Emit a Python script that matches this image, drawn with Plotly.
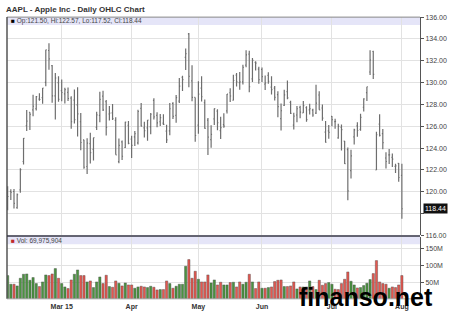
import pandas as pd
import plotly.graph_objects as go

W, H = 450, 328

holidays = ["2015-02-16", "2015-04-03", "2015-05-25", "2015-07-03"]
dates = [d.strftime("%Y-%m-%d") for d in pd.bdate_range("2015-02-04", "2015-08-03")
         if d.strftime("%Y-%m-%d") not in holidays]

prev_close = 118.65

opens = [
    118.50, 120.02, 120.02, 118.55, 120.17, 122.77, 126.06, 127.28, 127.49, 127.62, 128.48, 128.62, 130.02, 132.94, 131.56, 128.79, 130.00,
    129.25, 128.96, 129.10, 128.58, 128.40, 127.96, 126.41, 124.75, 122.31, 124.40, 123.88, 125.90, 127.00, 128.75, 128.25, 127.12, 127.23, 126.54, 122.76, 124.57, 124.05, 126.09,
    124.82, 125.03, 124.47, 127.64, 125.85, 125.85, 125.95, 128.37, 127.00, 126.41, 126.28, 125.55, 125.57, 128.10, 126.99, 128.30, 130.49, 132.31, 134.46, 130.16, 128.64,
    126.10, 129.50, 128.15, 126.56, 124.77, 126.68, 127.39, 125.60, 126.15, 127.41, 129.07, 128.38, 130.69, 130.00, 130.07, 131.60, 132.60, 130.34, 131.86, 131.23,
    131.20, 129.86, 130.66, 129.58, 129.50, 128.90, 126.70, 127.92, 129.18, 128.19, 126.10, 127.03, 127.72, 127.23, 127.71, 127.49, 127.48, 127.21, 128.86, 127.67, 125.46, 125.57,
    126.90, 126.43, 124.94, 125.89, 124.64, 123.85, 121.94, 125.03, 126.04, 125.72, 127.74, 129.08, 130.97, 132.85, 121.99, 126.20, 125.32, 123.09, 123.38, 123.15, 122.32, 122.60,
    121.50]
highs = [
    120.51, 120.23, 120.25, 119.84, 122.15, 124.92, 127.48, 127.28, 128.88, 128.78, 129.03, 129.50, 133.00, 133.60, 131.60, 130.87, 130.57,
    130.28, 129.52, 129.56, 128.75, 129.37, 129.57, 127.22, 124.77, 124.90, 125.40, 124.95, 127.32, 129.16, 129.25, 128.40, 127.85, 128.04, 126.82, 124.88, 124.70, 126.40, 126.49,
    125.12, 125.56, 127.51, 128.12, 126.40, 126.58, 127.21, 128.57, 127.29, 127.13, 127.10, 126.14, 128.12, 128.20, 128.87, 130.42, 130.63, 133.13, 134.54, 131.59, 128.64,
    130.13, 130.57, 128.45, 126.75, 126.08, 127.62, 127.56, 126.88, 127.19, 128.95, 129.49, 130.72, 130.88, 130.98, 131.63, 132.97, 132.91, 132.26, 131.95, 131.45,
    131.39, 130.66, 130.94, 130.58, 129.69, 129.21, 128.08, 129.34, 130.18, 128.33, 127.24, 127.85, 127.88, 128.31, 127.82, 128.06, 127.61, 129.80, 129.20, 127.99, 126.47, 126.12,
    126.94, 126.69, 126.23, 126.15, 124.64, 124.06, 123.85, 125.76, 126.37, 127.15, 128.57, 129.62, 132.97, 132.92, 125.50, 127.09, 125.74, 123.61, 123.91, 123.50, 122.57, 122.64,
    122.57]
lows = [
    118.31, 119.25, 118.45, 118.43, 119.90, 122.50, 125.57, 125.65, 126.92, 127.45, 128.33, 128.05, 129.66, 131.17, 128.15, 126.61, 128.24,
    128.30, 128.09, 128.32, 125.76, 126.26, 125.06, 123.80, 122.11, 121.63, 122.58, 122.87, 125.65, 126.37, 127.40, 125.16, 126.52, 126.56, 123.38, 122.60, 122.91, 124.00, 124.36,
    123.10, 124.19, 124.33, 125.98, 124.97, 124.66, 125.26, 126.61, 125.91, 126.01, 126.11, 124.46, 125.17, 126.67, 126.32, 128.14, 129.23, 131.15, 129.57, 128.30, 124.58,
    125.30, 128.26, 125.78, 123.36, 124.02, 126.11, 125.63, 124.82, 125.87, 127.16, 128.21, 128.36, 129.64, 129.34, 129.83, 131.40, 129.12, 130.05, 131.10, 129.90,
    130.05, 129.32, 129.90, 128.91, 128.36, 126.83, 125.62, 127.85, 128.48, 127.11, 125.71, 126.37, 126.74, 127.22, 126.40, 127.08, 126.88, 127.12, 127.50, 126.51, 124.48, 124.86,
    125.99, 125.77, 124.85, 123.77, 122.54, 119.22, 121.21, 124.32, 125.04, 125.58, 127.35, 128.31, 130.70, 130.32, 121.99, 125.06, 123.90, 122.12, 122.55, 122.27, 121.71, 120.91,
    117.52]
closes = [
    119.56, 119.94, 118.93, 119.72, 122.02, 124.88, 126.46, 127.08, 127.83, 128.72, 128.45, 129.50, 133.00, 132.17, 128.79, 130.42, 128.46,
    129.09, 129.36, 128.54, 126.41, 126.60, 127.14, 124.51, 122.24, 124.45, 123.59, 124.95, 127.04, 128.47, 127.50, 125.90, 127.21, 126.69, 123.38, 124.24, 123.25, 126.37, 124.43,
    124.25, 125.32, 127.35, 126.01, 125.60, 126.56, 127.10, 126.85, 126.30, 126.78, 126.17, 124.75, 127.60, 126.91, 128.62, 129.67, 130.28, 132.65, 130.56, 128.64, 125.15,
    128.95, 128.70, 125.80, 125.01, 125.26, 127.62, 126.32, 125.87, 126.01, 128.95, 128.77, 130.19, 130.07, 130.06, 131.39, 132.54, 129.62, 132.04, 131.78, 130.28,
    130.54, 129.96, 130.12, 129.36, 128.65, 127.80, 127.42, 128.88, 128.59, 127.17, 126.92, 127.60, 127.30, 127.88, 126.60, 127.61, 127.03, 128.11, 127.50, 126.75, 124.53, 125.43,
    126.60, 126.44, 126.00, 125.69, 122.57, 120.07, 123.28, 125.66, 125.61, 126.82, 128.51, 129.62, 132.07, 130.75, 125.22, 125.16, 124.50, 122.77, 123.38, 122.99, 122.37, 121.30,
    118.44]
volume_m = [
    70, 44, 44, 39, 62, 74, 75, 56, 64, 46, 37, 51, 72, 70, 75, 91, 62,
    46, 36, 31, 57, 74, 87, 70, 70, 51, 54, 34, 51, 66, 46, 71, 37, 35, 54, 47, 39, 48, 42,
    42, 32, 36, 38, 36, 34, 38, 35, 27, 28, 28, 54, 46, 32, 38, 44, 44, 98, 118, 62, 83,
    59, 51, 51, 72, 48, 57, 42, 50, 42, 42, 49, 50, 36, 51, 44, 50, 74, 51, 31, 51,
    32, 32, 34, 36, 52, 56, 57, 37, 37, 39, 51, 30, 36, 36, 36, 54, 37, 28, 56, 41, 46, 49,
    44, 29, 28, 46, 59, 81, 53, 42, 33, 34, 40, 47, 58, 76, 115, 51, 46, 44, 32, 36, 34, 42,
    69.975904]

month_ticks = ["2015-03-02", "2015-04-01", "2015-05-01", "2015-06-01", "2015-07-01", "2015-08-03"]
month_labels = ["Mar 15", "Apr", "May", "Jun", "Jul", "Aug"]
price_ticks = [116, 118, 120, 122, 124, 126, 128, 130, 132, 134, 136]
# 118.00 is covered by the last-price box in the reference
price_labels = ["116.00", "", "120.00", "122.00", "124.00", "126.00", "128.00",
                "130.00", "132.00", "134.00", "136.00"]
vol_ticks = [50, 100, 150]
vol_labels = ["50M", "100M", "150M"]

GREEN, RED = "#4a943f", "#e5574f"
colors = []
pc = prev_close
for c in closes:
    colors.append(GREEN if c >= pc else RED)
    pc = c

def px(x):
    return x / W

def py(y):
    return 1 - y / H

FONT = "Liberation Sans, Arial, sans-serif"
XL, XR = 7, 420
MAIN_TOP, MAIN_BOT = 13.4, 236.4
VOL_TOP, VOL_BOT = 237.6, 301.3

fig = go.Figure()
fig.add_trace(go.Ohlc(
    x=dates, open=opens, high=highs, low=lows, close=closes,
    increasing_line_color="#6e6e6e", decreasing_line_color="#6e6e6e",
    line_width=1.2, tickwidth=0.3, xaxis="x", yaxis="y", hoverinfo="skip"))
fig.add_trace(go.Bar(
    x=dates, y=[v * 1e6 for v in volume_m], marker_color=colors,
    marker_line_width=0.4, marker_line_color="#444",
    xaxis="x2", yaxis="y2", hoverinfo="skip"))

xrange_ = [-0.2, len(dates) - 1 + 5.7]
common_x = dict(type="category", range=xrange_, tickmode="array", tickvals=month_ticks,
                ticktext=month_labels, showgrid=True, gridcolor="#e2e2e2", gridwidth=1,
                zeroline=False, rangeslider=dict(visible=False), fixedrange=True)

vol_top_val = (VOL_BOT - VOL_TOP) / 17.0 * 50e6

fig.update_layout(
    width=W, height=H, margin=dict(l=0, r=0, t=0, b=0),
    paper_bgcolor="white", plot_bgcolor="white", showlegend=False,
    bargap=0.28,
    font=dict(family=FONT, size=7, color="#444"),
    xaxis=dict(domain=[px(XL), px(XR)], anchor="y", showticklabels=False, ticks="",
               **common_x),
    yaxis=dict(domain=[py(MAIN_BOT), py(MAIN_TOP)], range=[116, 136], side="right",
               tickmode="array", tickvals=price_ticks, ticktext=price_labels,
               ticks="outside", ticklen=3, tickcolor="#555", showline=True,
               linecolor="#555", linewidth=1, gridcolor="#e2e2e2", zeroline=False,
               tickfont=dict(size=7, color="#444"), anchor="x"),
    xaxis2=dict(domain=[px(XL), px(XR)], anchor="y2", showticklabels=True, ticks="",
                tickfont=dict(size=7, color="#333", family=FONT), **common_x),
    yaxis2=dict(domain=[py(VOL_BOT), py(VOL_TOP)], range=[0, vol_top_val], side="right",
                tickmode="array", tickvals=[v * 1e6 for v in vol_ticks], ticktext=vol_labels,
                ticks="outside", ticklen=3, tickcolor="#555", showline=True,
                linecolor="#555", linewidth=1, gridcolor="#e2e2e2", zeroline=False,
                tickfont=dict(size=7, color="#444"), anchor="x2"),
)
fig.update_xaxes(ticklabelstandoff=2)
fig.layout.xaxis2.tickfont.weight = "bold"

shapes = [
    dict(type="rect", xref="paper", yref="paper", x0=px(XL), x1=px(XR),
         y0=py(21.5), y1=py(MAIN_TOP), fillcolor="#e5e5f8", line_width=0, layer="between"),
    dict(type="rect", xref="paper", yref="paper", x0=px(XL), x1=px(XR),
         y0=py(245.5), y1=py(VOL_TOP), fillcolor="#e5e5f8", line_width=0, layer="between"),
    dict(type="line", xref="paper", yref="paper", x0=px(XL), x1=px(XR),
         y0=py(MAIN_TOP), y1=py(MAIN_TOP), line=dict(color="#888", width=1)),
    dict(type="line", xref="paper", yref="paper", x0=px(XL), x1=px(XL),
         y0=py(VOL_BOT), y1=py(MAIN_TOP), line=dict(color="#555", width=1.5)),
    dict(type="line", xref="paper", yref="paper", x0=px(XL), x1=px(XR),
         y0=py(237), y1=py(237), line=dict(color="#333344", width=1.5)),
    dict(type="line", xref="paper", yref="paper", x0=px(XL), x1=px(XR),
         y0=py(VOL_BOT), y1=py(VOL_BOT), line=dict(color="#999", width=0.8)),
]
fig.update_layout(shapes=shapes)

annotations = [
    dict(xref="paper", yref="paper", x=px(4), y=py(6), xanchor="left", yanchor="middle",
         text="<b>AAPL - Apple Inc - Daily OHLC Chart</b>", showarrow=False,
         font=dict(size=8, color="#333", family=FONT)),
    dict(xref="paper", yref="paper", x=px(9), y=py(17.6), xanchor="left", yanchor="middle",
         text="<span style='color:#000'>■</span> Op:121.50, Hi:122.57, Lo:117.52, Cl:118.44",
         showarrow=False, font=dict(size=6.5, color="#444", family=FONT)),
    dict(xref="paper", yref="paper", x=px(9), y=py(241.6), xanchor="left", yanchor="middle",
         text="<span style='color:#c0282a'>■</span> Vol: 69,975,904",
         showarrow=False, font=dict(size=6.5, color="#444", family=FONT)),
    dict(xref="paper", yref="y", x=px(423), y=closes[-1], xanchor="left", yanchor="middle",
         text="118.44", showarrow=False, bgcolor="#111", borderpad=1,
         font=dict(size=7, color="white", family=FONT)),
    dict(xref="paper", yref="paper", x=px(366), y=py(299), xanchor="center", yanchor="middle",
         text="<b>finanso.net</b>", showarrow=False,
         font=dict(size=25, color="#000", family="Liberation Sans, Arial, sans-serif")),
]
fig.update_layout(annotations=annotations)

fig.write_html("out.html")
